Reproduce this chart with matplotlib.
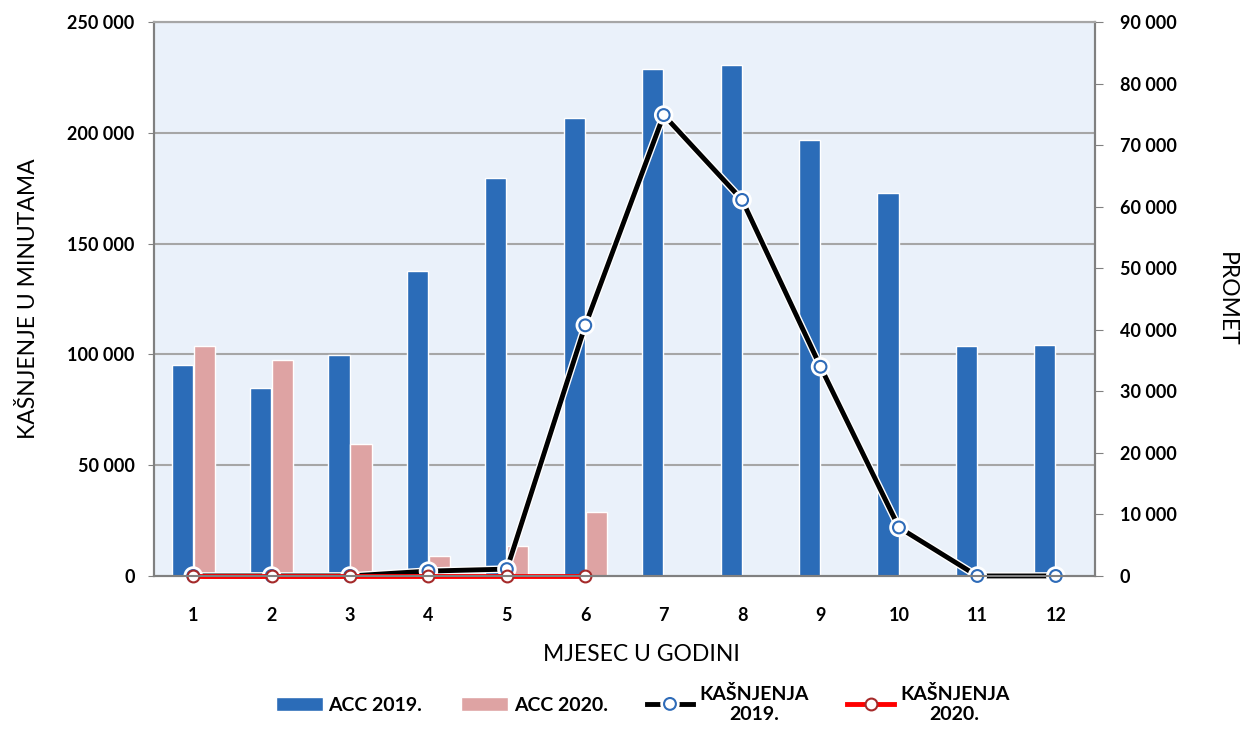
import matplotlib.pyplot as plt
import matplotlib.patheffects as pe
import numpy as np
from matplotlib.ticker import FuncFormatter, MultipleLocator

# %%
months = np.arange(1, 13)
acc_2019 = [34200, 30500, 35900, 49600, 64700, 74400, 82300, 83000, 70800, 62200, 37400, 37600]
acc_2020 = [37400, 35100, 21500, 3200, 4800, 10400]
delay_2019 = [0, 0, 0, 2200, 3100, 113100, 208000, 169700, 94400, 21900, 0, 0]
delay_2020 = [0, 0, 0, 0, 0, 0]

plt.rcParams['font.family'] = ['Lato', 'DejaVu Sans']


def thousands(v, pos):
    return '{:,}'.format(int(v)).replace(',', ' ')


# %%
fig = plt.figure(figsize=(12.43, 7.30), dpi=100)
ax = fig.add_axes([0.1239, 0.2110, 0.7570, 0.7589])   # delays (left)
ax2 = ax.twinx()                                      # traffic (right)
ax.set_zorder(ax2.get_zorder() + 1)
ax.patch.set_visible(False)
ax2.patch.set_visible(True)
ax2.patch.set_facecolor('#EAF1FA')

left_max, right_max = 250000, 90000
ax.set_ylim(0, left_max)
ax2.set_ylim(0, right_max)
ax.set_xlim(0.5, 12.5)

# grid lines of the left axis, drawn behind the bars
for t in range(50000, left_max + 1, 50000):
    ax2.axhline(t * right_max / left_max, color='#A6A6A6', lw=1.5, zorder=0)

width = 0.27
b1 = ax2.bar(months - 0.14, acc_2019, width, color='#2B6CB8', edgecolor='white',
             lw=1, label='ACC 2019.', zorder=2)
b2 = ax2.bar(months[:len(acc_2020)] + 0.14, acc_2020, width, color='#DEA3A3',
             edgecolor='white', lw=1, label='ACC 2020.', zorder=2)

outline = [pe.Stroke(linewidth=5.5, foreground='white'), pe.Normal()]
l1, = ax.plot(months, delay_2019, color='black', lw=3.5, marker='o', ms=8.5,
              mfc='white', mec='#2E6BB8', mew=1.5, label='KAŠNJENJA\n2019.',
              path_effects=outline, clip_on=False)
l2, = ax.plot(months[:len(delay_2020)], delay_2020, color='#FF0000', lw=3.5, marker='o',
              ms=8.5, mfc='white', mec='#A52A2A', mew=1.5, label='KAŠNJENJA\n2020.',
              clip_on=False)

ax.yaxis.set_major_locator(MultipleLocator(50000))
ax2.yaxis.set_major_locator(MultipleLocator(10000))
ax.yaxis.set_major_formatter(FuncFormatter(thousands))
ax2.yaxis.set_major_formatter(FuncFormatter(thousands))
ax.set_xticks(months)
ax.tick_params(axis='x', length=0, pad=22, labelsize=13)
ax.tick_params(axis='y', length=4, color='#808080', pad=10, labelsize=13)
ax2.tick_params(axis='y', length=6, color='#808080', pad=12, labelsize=13)
for lab in ax.get_xticklabels() + ax.get_yticklabels() + ax2.get_yticklabels():
    lab.set_fontweight('bold')

for a in (ax, ax2):
    for s in ('left', 'right', 'bottom'):
        a.spines[s].set_color('#808080')
        a.spines[s].set_linewidth(1.5)
    a.spines['top'].set_color('#A6A6A6')
    a.spines['top'].set_linewidth(1.5)

ax.set_ylabel('KAŠNJENJE U MINUTAMA', fontsize=16.5, labelpad=20)
ax2.set_ylabel('PROMET', fontsize=16.5, rotation=-90, labelpad=28, va='bottom')
ax.set_xlabel('MJESEC U GODINI', fontsize=16.5)
ax.xaxis.set_label_coords(0.518, -0.122)

leg = fig.legend(handles=[b1, b2, l1, l2], loc='center', ncol=4,
                 bbox_to_anchor=(0.517, 0.036), frameon=False,
                 prop={'weight': 'bold', 'size': 14},
                 handlelength=2.4, columnspacing=2.0, handletextpad=0.3)
for t in leg.get_texts():
    t.set_multialignment('center')

plt.savefig('out.png', dpi=100)
